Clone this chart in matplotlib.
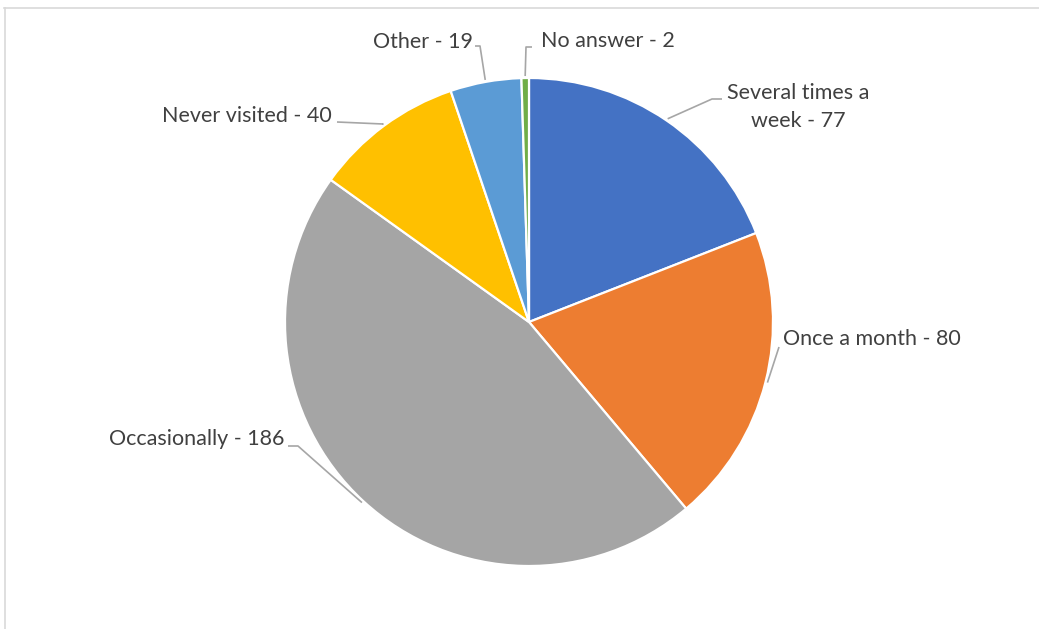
import numpy as np
import matplotlib
matplotlib.use("Agg")
from matplotlib import pyplot as plt

# data
labels = ["Several times a\nweek", "Once a month", "Occasionally",
          "Never visited", "Other", "No answer"]
counts = [77, 80, 186, 40, 19, 2]
colors = ["#4472C4", "#ED7D31", "#A5A5A5", "#FFC000", "#5B9BD5", "#70AD47"]

W, H = 1039, 629
cx, cy, R = 529, 322, 244   # pixel coords, y down

def fy(y):
    # pixel y (down) -> data y (up)
    return H - y

# label layout: text x, text y, alignment, elbow point, end of horizontal tick
layout = [
    dict(tx=798, ty=107, ha="center", elbow=(712, 99), end=(722, 99)),
    dict(tx=783, ty=339, ha="left", elbow=(779, 347), end=(779, 347)),
    dict(tx=284, ty=439, ha="right", elbow=(298, 446), end=(288, 446)),
    dict(tx=332, ty=116, ha="right", elbow=(383, 124), end=(337, 122)),
    dict(tx=473, ty=42, ha="right", elbow=(480, 46), end=(475, 46)),
    dict(tx=541, ty=41, ha="left", elbow=(526, 47), end=(532, 47)),
]

plt.rcParams['font.family'] = ['Lato', 'DejaVu Sans']

fig = plt.figure(figsize=(W / 100, H / 100), dpi=100)
ax = fig.add_axes([0, 0, 1, 1])

wedges, _ = ax.pie(counts, colors=colors, startangle=90, counterclock=False,
                   center=(cx, fy(cy)), radius=R,
                   wedgeprops=dict(edgecolor="white", linewidth=1.6))
ax.set_xlim(0, W)
ax.set_ylim(0, H)
ax.set_aspect("equal")
ax.axis("off")

# chart border (only top and left edges are visible in the crop)
ax.plot([4, W + 5], [fy(7.5), fy(7.5)], color="#D9D9D9", lw=1.2, clip_on=False)
ax.plot([4.5, 4.5], [fy(7.5), -5], color="#D9D9D9", lw=1.2, clip_on=False)

for w, lab, n, lay in zip(wedges, labels, counts, layout):
    mid = np.deg2rad((w.theta1 + w.theta2) / 2)
    ax_ = cx + (R + 2) * np.cos(mid)
    ay_ = cy - (R + 2) * np.sin(mid)
    ex, ey = lay["elbow"]
    hx, hy = lay["end"]
    ax.plot([ax_, ex, hx], [fy(ay_), fy(ey), fy(hy)], color="#A6A6A6",
            lw=1.2, solid_capstyle="butt")
    ax.text(lay["tx"], fy(lay["ty"]), f"{lab} - {n}", ha=lay["ha"],
            va="center", fontsize=15.5, color="#404040", linespacing=1.55)

fig.savefig("out.png", dpi=100)
